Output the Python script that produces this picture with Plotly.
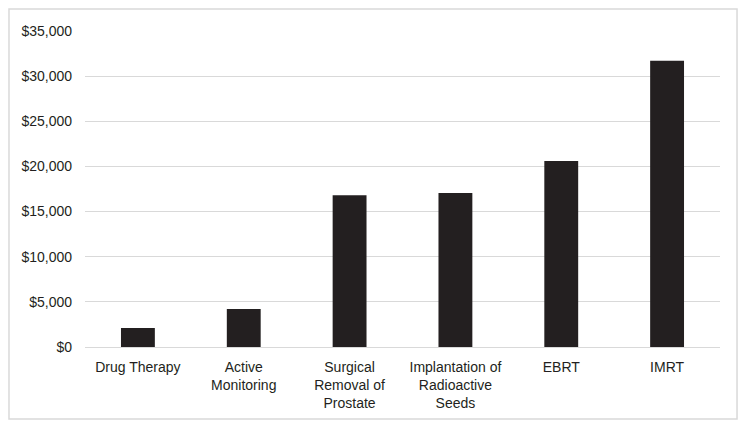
import plotly.graph_objects as go

categories = ["Drug Therapy", "Active<br>Monitoring", "Surgical<br>Removal of<br>Prostate",
              "Implantation of<br>Radioactive<br>Seeds", "EBRT", "IMRT"]
costs = [2100, 4200, 16800, 17050, 20600, 31700]
tick_vals = [0, 5000, 10000, 15000, 20000, 25000, 30000, 35000]
tick_text = ["$0", "$5,000", "$10,000", "$15,000", "$20,000", "$25,000", "$30,000", "$35,000"]

fig = go.Figure()
fig.add_trace(go.Bar(x=categories, y=costs, marker=dict(color="#231f20", line=dict(width=0))))

# light outer frame around the whole chart
fig.add_shape(type="rect", xref="paper", yref="paper",
              x0=-0.1197, x1=1.0268, y0=-0.2278, y1=1.0696,
              line=dict(color="#d9d9d9", width=1.5), layer="below")

fig.update_layout(
    width=749, height=430,
    margin=dict(l=85, r=29, t=31, b=83),
    paper_bgcolor="white", plot_bgcolor="white",
    bargap=0.68,
    showlegend=False,
    font=dict(family="Liberation Sans, Arial, sans-serif", size=14, color="#231f20"),
    xaxis=dict(showgrid=False, showline=False, ticks="", tickangle=0, ticklabelstandoff=10),
    yaxis=dict(range=[0, 35000], tickvals=tick_vals, ticktext=tick_text,
               showgrid=True, gridcolor="#d9d9d9", gridwidth=1,
               zeroline=True, zerolinecolor="#d9d9d9", zerolinewidth=1,
               showline=False, ticks="", ticklabelstandoff=12),
)

fig.write_html("out.html", config={"displayModeBar": False},
               post_script="document.body.style.margin='0';")
